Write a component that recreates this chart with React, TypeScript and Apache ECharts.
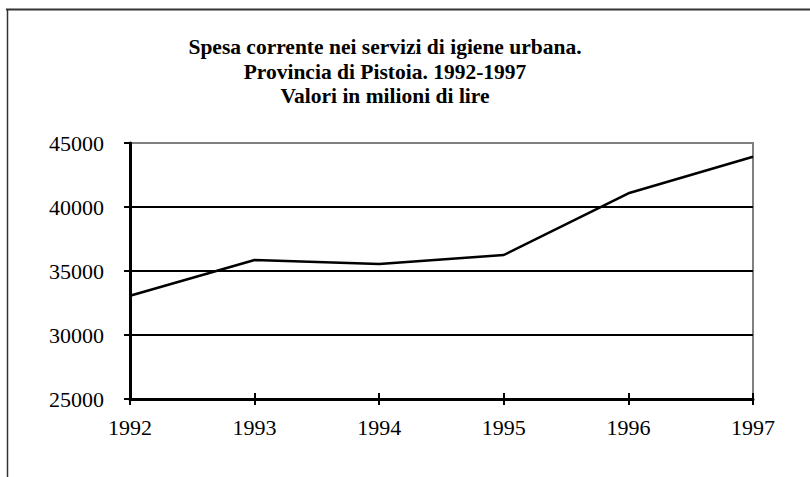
import React, { useEffect, useRef } from "react";
import * as echarts from "echarts";

const years = ["1992", "1993", "1994", "1995", "1996", "1997"];
const spesa = [33070, 35860, 35550, 36250, 41070, 43930];
const titleLines = [
  "Spesa corrente nei servizi di igiene urbana.",
  "Provincia di Pistoia. 1992-1997",
  "Valori in milioni di lire",
];
const yMin = 25000;
const yMax = 45000;
const yStep = 5000;

const FONT = "'Liberation Serif', 'Times New Roman', serif";

export default function App() {
  const ref = useRef<HTMLDivElement>(null);
  useEffect(() => {
    document.body.style.margin = "0";
    const chart = echarts.init(ref.current!, null, { renderer: "svg" });
    chart.setOption({
      animation: false,
      backgroundColor: "#ffffff",
      title: titleLines.map((t, i) => ({
        text: t,
        left: 385,
        textAlign: "center",
        top: 35 + i * 24.5,
        padding: 0,
        textStyle: {
          fontFamily: FONT,
          fontWeight: "bold",
          fontSize: 21.5,
          lineHeight: 24,
          color: "#000",
        },
      })),
      graphic: [
        { type: "line", shape: { x1: 6, y1: 9.5, x2: 810, y2: 9.5 }, style: { stroke: "#333", lineWidth: 2 } },
        { type: "line", shape: { x1: 7.5, y1: 9, x2: 7.5, y2: 477 }, style: { stroke: "#333", lineWidth: 1.5 } },
      ],
      grid: {
        left: 130,
        right: 57,
        top: 143,
        bottom: 78,
        show: true,
        borderColor: "#808080",
        borderWidth: 2,
        backgroundColor: "transparent",
      },
      xAxis: [
        {
          type: "category",
          data: years,
          boundaryGap: false,
          axisLine: { lineStyle: { color: "#000", width: 3 } },
          axisTick: { show: true, length: 6, lineStyle: { color: "#000", width: 2 } },
          axisLabel: { fontFamily: FONT, fontSize: 22, color: "#000", margin: 17 },
          splitLine: { show: false },
        },
        {
          type: "category",
          data: years,
          boundaryGap: false,
          position: "bottom",
          axisLine: { show: false },
          axisTick: { show: true, inside: true, length: 6, lineStyle: { color: "#000", width: 2 } },
          axisLabel: { show: false },
          splitLine: { show: false },
        },
      ],
      yAxis: [
        {
          type: "value",
          min: yMin,
          max: yMax,
          interval: yStep,
          axisLine: { show: true, lineStyle: { color: "#000", width: 3 } },
          axisTick: { show: true, length: 6, lineStyle: { color: "#000", width: 2 } },
          axisLabel: {
            fontFamily: FONT,
            fontSize: 22,
            color: "#000",
            margin: 26,
            formatter: (v: number) => String(v),
          },
          splitLine: {
            show: true,
            showMaxLine: false,
            lineStyle: { color: "#000", width: 2 },
          },
        },
      ],
      series: [
        {
          type: "line",
          data: spesa,
          xAxisIndex: 0,
          yAxisIndex: 0,
          showSymbol: false,
          symbol: "none",
          lineStyle: { color: "#000", width: 2.5 },
          z: 5,
        },
      ],
    });
    return () => chart.dispose();
  }, []);
  return <div ref={ref} style={{ width: 810, height: 477 }} />;
}
